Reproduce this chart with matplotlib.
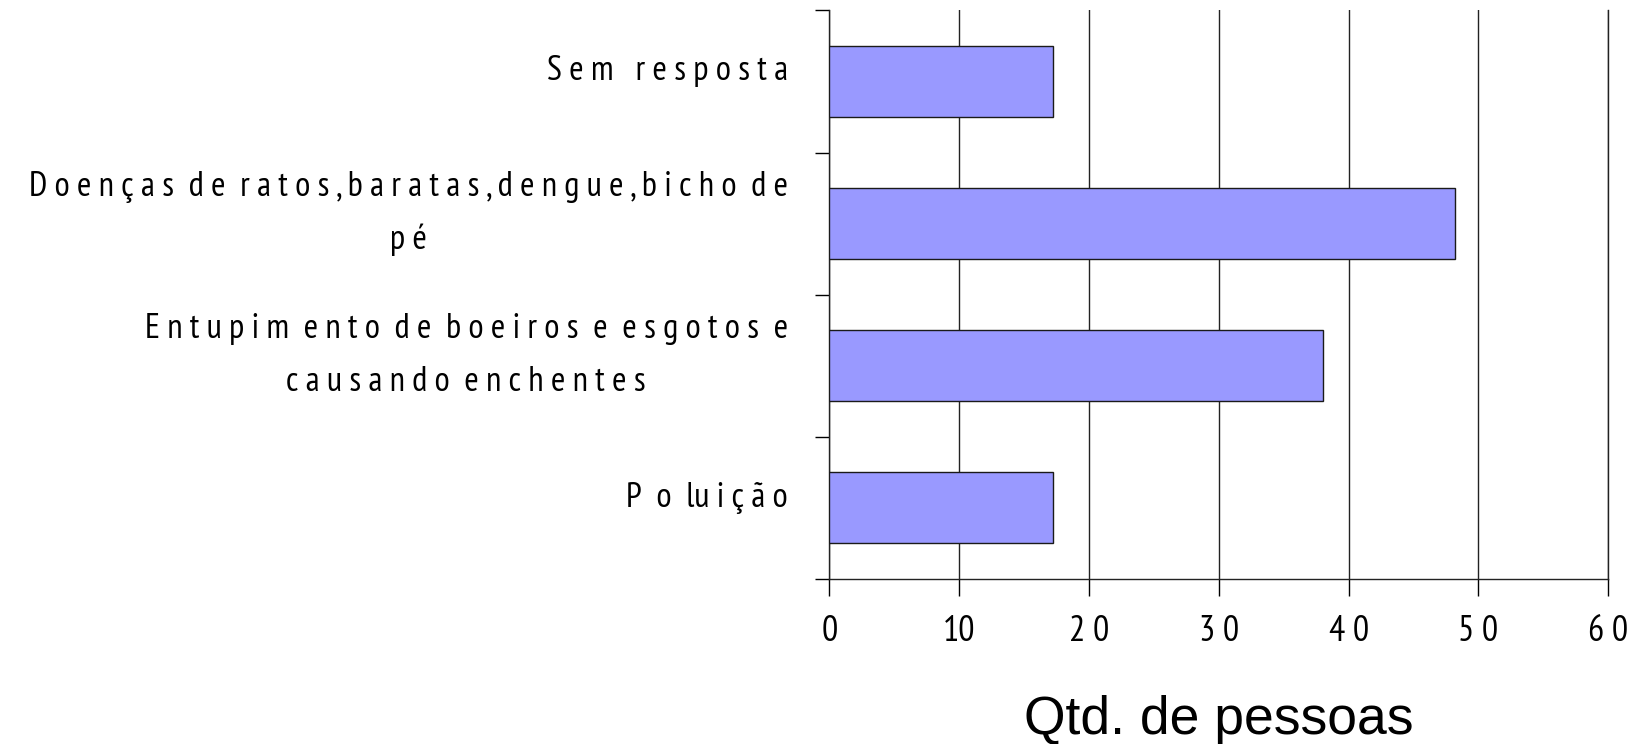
import matplotlib.pyplot as plt
import matplotlib.transforms as mtransforms
import numpy as np

# categories from top to bottom, letter-spaced as in the original chart
categories = [
    "S e m   r e s p o s t a",
    "D o e n ç a s  d e  r a t o s , b a r a t a s , d e n g u e , b i c h o  d e\np é",
    "E n t u p i m  e n t o  d e  b o e i r o s  e  e s g o t o s  e\nc a u s a n d o  e n c h e n t e s",
    "P  o  lu i ç ã o",
]
values = [17.2, 48.2, 38.0, 17.2]
xticks = [0, 10, 20, 30, 40, 50, 60]
xtick_labels = ["0", "10", "2 0", "3 0", "4 0", "5 0", "6 0"]

label_font = ["PT Sans Narrow", "Liberation Sans"]

fig = plt.figure(figsize=(16.36, 7.44), dpi=100)
ax = fig.add_axes([0.507, 0.222, 0.476, 0.764])

pos = np.arange(len(categories))
ax.barh(pos, values, height=0.5, color="#9999FF", edgecolor="#1a1a1a", linewidth=1.0, zorder=3)

ax.set_xlim(0, 60)
ax.set_ylim(len(categories) - 0.5, -0.5)

# labels at category centres, tick marks at the boundaries
ax.set_yticks(pos)
ax.set_yticklabels(categories, family=label_font, fontsize=25, linespacing=1.82,
                   multialignment="center", va="center")
ax.tick_params(axis="y", which="major", length=0, pad=30)
ax.set_yticks(np.arange(-0.5, len(categories)), minor=True)
ax.tick_params(axis="y", which="minor", length=10, width=1, direction="out")
shift = mtransforms.ScaledTranslation(0, 10 / 100, fig.dpi_scale_trans)
for lbl in ax.get_yticklabels():
    lbl.set_transform(lbl.get_transform() + shift)

ax.set_xticks(xticks)
ax.set_xticklabels(xtick_labels, family=label_font, fontsize=26)
ax.tick_params(axis="x", length=12, width=1, pad=14)

ax.grid(axis="x", color="#222222", linewidth=1.0, zorder=0)
ax.spines["top"].set_visible(False)
for side in ["left", "bottom", "right"]:
    ax.spines[side].set_linewidth(1.0)
    ax.spines[side].set_color("#222222")

fig.text(0.745, 0.014, "Qtd. de pessoas", family="Liberation Sans", fontsize=38.5, ha="center", va="baseline")

fig.savefig("out.png", dpi=100)
